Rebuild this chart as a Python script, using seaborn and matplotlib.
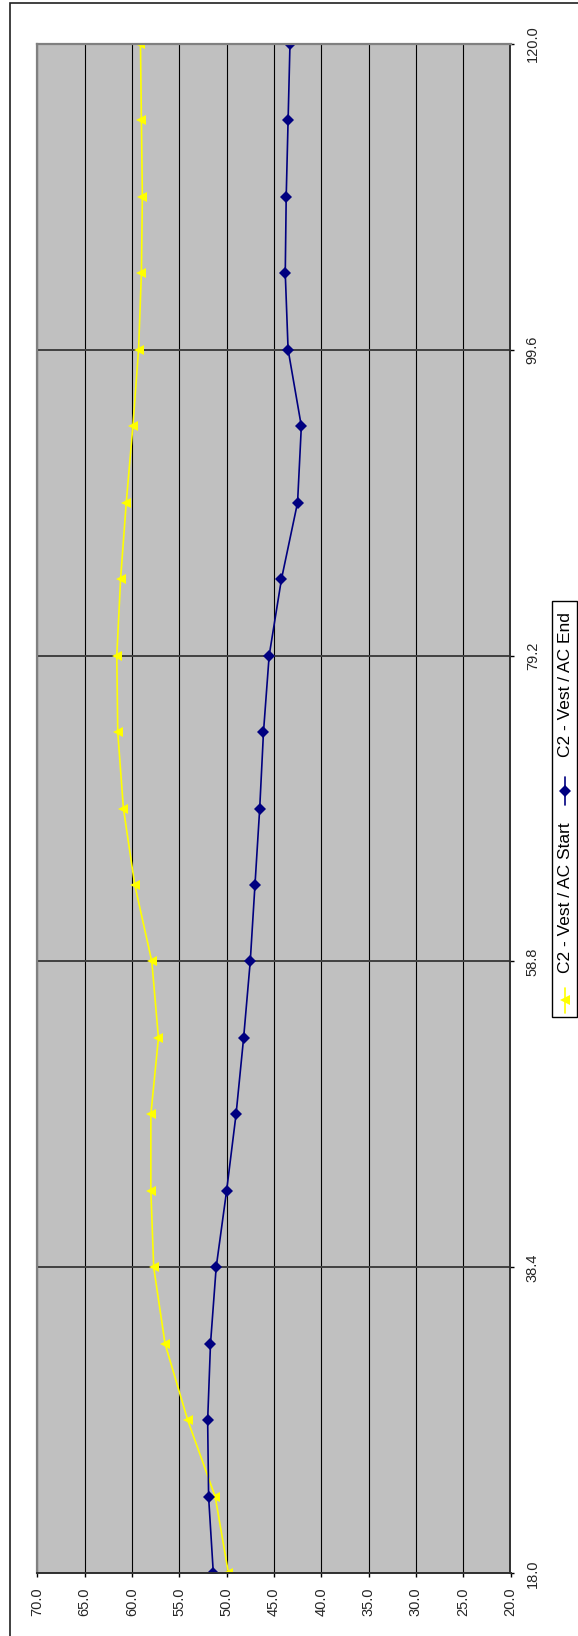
import numpy as np
import pandas as pd
import matplotlib
matplotlib.use("Agg")
import matplotlib.pyplot as plt
from matplotlib.patches import Rectangle
from matplotlib.lines import Line2D
import seaborn as sns

# category axis (runs bottom -> top in the rotated chart)
positions = [18.0, 23.1, 28.2, 33.3, 38.4, 43.5, 48.6, 53.7, 58.8, 63.9, 69.0,
             74.1, 79.2, 84.3, 89.4, 94.5, 99.6, 104.7, 109.8, 114.9, 120.0]
ac_start = [49.8, 51.2, 54.1, 56.5, 57.7, 58.0, 58.0, 57.2, 57.9, 59.7, 60.9,
            61.5, 61.6, 61.2, 60.6, 59.9, 59.3, 59.0, 58.9, 59.0, 59.1]
ac_end = [51.4, 51.9, 52.0, 51.7, 51.1, 50.0, 49.0, 48.2, 47.5, 47.0, 46.5,
          46.1, 45.5, 44.2, 42.5, 42.1, 43.5, 43.8, 43.7, 43.5, 43.3]
series_names = ["C2 - Vest / AC Start", "C2 - Vest / AC End"]
value_ticks = [70.0, 65.0, 60.0, 55.0, 50.0, 45.0, 40.0, 35.0, 30.0, 25.0, 20.0]
position_ticks = [18.0, 38.4, 58.8, 79.2, 99.6, 120.0]

colors = {series_names[0]: "#FFFF00", series_names[1]: "#000080"}
markers = {series_names[0]: "<", series_names[1]: "D"}
msizes = {series_names[0]: 7, series_names[1]: 6}

sns.set_style("white")
plt.rcParams["font.family"] = ["Liberation Sans", "DejaVu Sans"]

W, H = 578, 1636
fig = plt.figure(figsize=(W / 100, H / 100), dpi=100)


def fx(x):
    return x / W


def fy(y):
    return 1 - y / H


# outer chart border (cut off at right and bottom)
fig.add_artist(Rectangle((fx(10), fy(1700)), 1.0, (1700 - 3) / H,
                         transform=fig.transFigure, fill=False,
                         edgecolor="#202020", lw=1.2))

ax = fig.add_axes([fx(37.3), fy(1573.3), (510.5 - 37.3) / W, (1573.3 - 43.7) / H])
ax.set_facecolor("#C0C0C0")

df = pd.DataFrame({
    "pos": positions * 2,
    "value": ac_start + ac_end,
    "series": [series_names[0]] * len(positions) + [series_names[1]] * len(positions),
})

for name in series_names:
    sns.lineplot(data=df[df["series"] == name], x="value", y="pos",
                 color=colors[name], marker=markers[name],
                 estimator=None, orient="y", legend=False, ax=ax,
                 linewidth=1.2, markersize=msizes[name], markeredgewidth=0)

ax.set_xlim(70, 20)
ax.set_ylim(18, 120)
ax.set_xticks(value_ticks)
ax.set_xticklabels([f"{v:.1f}" for v in value_ticks], rotation=90)
ax.yaxis.tick_right()
ax.set_yticks(position_ticks)
ax.set_yticklabels([f"{v:.1f}" for v in position_ticks], rotation=90, va="center")
ax.set_xlabel("")
ax.set_ylabel("")
ax.tick_params(axis="x", direction="out", length=3, width=1, color="black",
               pad=7, labelsize=10.5, bottom=True)
ax.tick_params(axis="y", direction="out", length=3, width=1, color="black",
               pad=8, labelsize=10.5, right=True, left=False)

ax.set_axisbelow(True)
ax.grid(axis="x", color="black", lw=0.8)
ax.grid(axis="y", color="#404040", lw=1.4)

for side in ["top", "left"]:
    ax.spines[side].set_color("#808080")
    ax.spines[side].set_linewidth(1.6)
for side in ["bottom", "right"]:
    ax.spines[side].set_color("#303030")
    ax.spines[side].set_linewidth(1.4)

# legend, drawn rotated like the rest of the chart
fig.add_artist(Rectangle((fx(552.3), fy(1016.7)), (577 - 552.3) / W,
                         (1016.7 - 600.7) / H, transform=fig.transFigure,
                         facecolor="white", edgecolor="black", lw=1.0))
legend_items = [
    (series_names[0], 988, 1013, 1000, 897.5),
    (series_names[1], 777, 805, 791, 684.7),
]
for name, y0, y1, ym, ytext in legend_items:
    fig.add_artist(Line2D([fx(565), fx(565)], [fy(y0), fy(y1)],
                          transform=fig.transFigure, color=colors[name], lw=1.2))
    fig.add_artist(Line2D([fx(565)], [fy(ym)], transform=fig.transFigure,
                          color=colors[name], marker=markers[name],
                          markersize=msizes[name], markeredgewidth=0))
    fig.text(fx(565), fy(ytext), name, rotation=90, ha="center", va="center",
             fontsize=12.5, color="black")

fig.savefig("out.png", dpi=100)
